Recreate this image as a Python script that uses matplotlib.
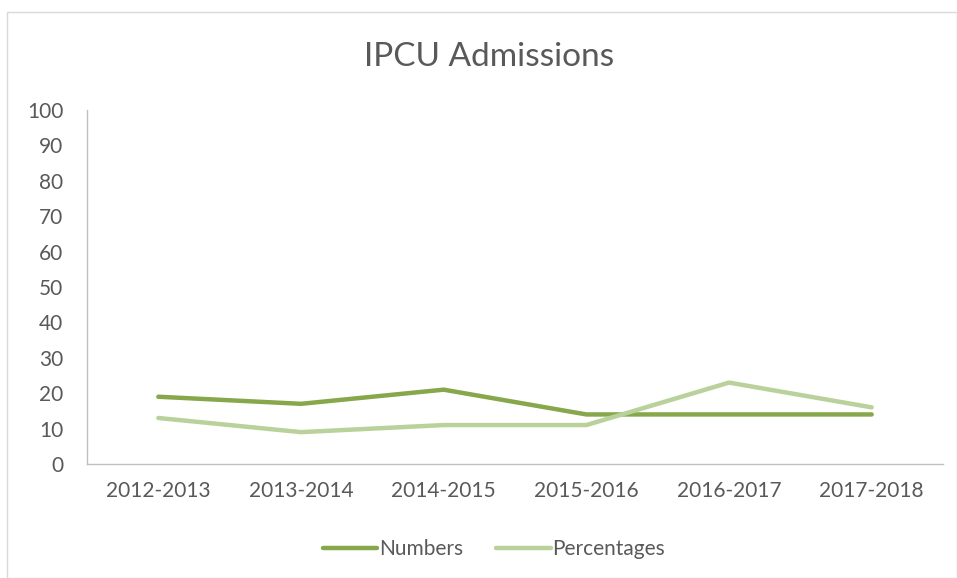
import matplotlib
matplotlib.use("Agg")
import matplotlib.pyplot as plt
from matplotlib.patches import Rectangle

categories = ["2012-2013", "2013-2014", "2014-2015", "2015-2016", "2016-2017", "2017-2018"]
numbers = [19, 17, 21, 14, 14, 14]
percentages = [13, 9, 11, 11, 23, 16]
yticks = list(range(0, 101, 10))

plt.rcParams['font.family'] = ['Lato', 'DejaVu Sans']
W, H = 957, 578
fig = plt.figure(figsize=(W/100, H/100), dpi=100)
fig.patches.append(Rectangle((7/W, 0), 1 - 7/W, 1 - 12/H, transform=fig.transFigure,
                             fill=False, edgecolor='#d9d9d9', linewidth=1))
ax = fig.add_axes([87/W, 1 - 464/H, (943-87)/W, (464-110)/H])
x = [i + 0.5 for i in range(len(categories))]
ax.plot(x, numbers, color='#86a74a', lw=3.2, label='Numbers', solid_capstyle='round')
ax.plot(x, percentages, color='#b9d19a', lw=3.2, label='Percentages', solid_capstyle='round')
ax.set_xlim(0, len(categories))
ax.set_ylim(0, 100)
ax.set_yticks(yticks)
ax.set_xticks(x)
ax.set_xticklabels(categories)
for s in ['top', 'right']:
    ax.spines[s].set_visible(False)
for s in ['left', 'bottom']:
    ax.spines[s].set_color('#bfbfbf')
    ax.spines[s].set_linewidth(1)
ax.tick_params(length=0, labelsize=15, labelcolor='#595959')
ax.tick_params(axis='x', pad=12)
ax.tick_params(axis='y', pad=17)
fig.text(489/W, 1 - 57/H, 'IPCU Admissions', ha='center', va='center', fontsize=24, color='#595959')
fig.legend(loc='center', bbox_to_anchor=(494/W, 1 - 549/H), ncol=2, frameon=False,
           fontsize=15, labelcolor='#595959', handlelength=2.6, handletextpad=0.1, columnspacing=1.6)
fig.savefig('out.png', dpi=100)
